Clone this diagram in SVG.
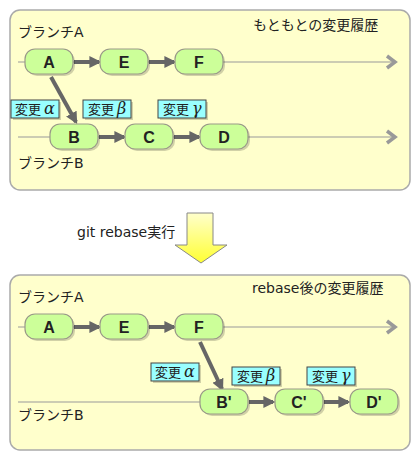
<svg xmlns="http://www.w3.org/2000/svg" width="420" height="460" viewBox="0 0 420 460">
<defs>
<style>
.panel{fill:#ffffcc;stroke:#aaaaaa;stroke-width:1.5}
.node{fill:#ccff99;stroke:#999988;stroke-width:1.2}
.shadow{fill:#000;opacity:0.18}
.nt{font-family:"Liberation Sans",Arial,sans-serif;font-size:16px;font-weight:bold;fill:#222;text-anchor:middle}
.t{font-family:"DejaVu Sans","Noto Sans CJK JP",sans-serif;font-size:14px;fill:#222}
.lab{fill:#99ffff;stroke:#444;stroke-width:1}
.lt{font-family:"Noto Sans CJK JP","DejaVu Sans",sans-serif;font-size:13px;fill:#222}
.gk{font-family:"DejaVu Serif","Liberation Serif",serif;font-style:italic;font-size:16px}
.line{stroke:#999;stroke-width:1.2;fill:none}
.chev{stroke:#999;stroke-width:3.5;fill:none}
.edge{stroke:#666;stroke-width:4;fill:none;marker-end:url(#ah)}
</style>
<marker id="ah" viewBox="0 0 10 10" refX="8" refY="5" markerWidth="3" markerHeight="3" orient="auto" markerUnits="strokeWidth">
<path d="M0,0 L10,5 L0,10 z" fill="#666"/>
</marker>
<linearGradient id="yg" x1="0" y1="0" x2="0" y2="1">
<stop offset="0" stop-color="#ffffcc"/>
<stop offset="1" stop-color="#ffff33"/>
</linearGradient>
</defs>

<!-- Panel 1 -->
<g id="panel1">
<rect class="panel" x="10" y="10" width="400" height="180" rx="10"/>
<text class="t" x="18" y="37">ブランチA</text>
<text class="t" x="18" y="168">ブランチB</text>
<text class="t" x="253" y="30">もともとの変更履歴</text>
</g>

<!-- Panel 2 -->
<g id="panel2">
<rect class="panel" x="10" y="275" width="400" height="175" rx="10"/>
<text class="t" x="18" y="302">ブランチA</text>
<text class="t" x="18" y="420">ブランチB</text>
<text class="t" x="252" y="293">rebase後の変更履歴</text>
</g>

<g id="rebase-arrow">
<text class="t" x="77" y="237">git rebase実行</text>
<path d="M187,213 L213,213 L213,245 L227,245 L201,263 L175,245 L187,245 Z" fill="url(#yg)" stroke="#888" stroke-width="1"/>
</g>

<!-- Connectors -->
<g id="connectors">
<line class="line" x1="18" y1="62" x2="396" y2="62"/>
<path class="chev" d="M387,56 L395,62 L387,68"/>
<line class="line" x1="18" y1="137" x2="396" y2="137"/>
<path class="chev" d="M387,131 L395,137 L387,143"/>
<line class="edge" x1="74" y1="62" x2="99" y2="62"/>
<line class="edge" x1="149" y1="62" x2="174" y2="62"/>
<line class="edge" x1="99" y1="137" x2="124" y2="137"/>
<line class="edge" x1="174" y1="137" x2="199" y2="137"/>
<line class="edge" x1="51" y1="77" x2="76" y2="122"/>

<line class="line" x1="18" y1="327" x2="396" y2="327"/>
<path class="chev" d="M387,321 L395,327 L387,333"/>
<line class="line" x1="18" y1="402" x2="200" y2="402"/>
<line class="edge" x1="74" y1="327" x2="99" y2="327"/>
<line class="edge" x1="149" y1="327" x2="174" y2="327"/>
<line class="edge" x1="249" y1="402" x2="273" y2="402"/>
<line class="edge" x1="324" y1="402" x2="348" y2="402"/>
<line class="edge" x1="200" y1="342" x2="222" y2="389"/>
</g>

<!-- Panel 1 nodes -->
<g id="nA"><rect class="shadow" x="27" y="51" width="48" height="25" rx="10"/><rect class="node" x="25" y="49" width="48" height="25" rx="10"/><text class="nt" x="49" y="68">A</text></g>
<g id="nE"><rect class="shadow" x="102" y="51" width="48" height="25" rx="10"/><rect class="node" x="100" y="49" width="48" height="25" rx="10"/><text class="nt" x="124" y="68">E</text></g>
<g id="nF"><rect class="shadow" x="177" y="51" width="48" height="25" rx="10"/><rect class="node" x="175" y="49" width="48" height="25" rx="10"/><text class="nt" x="199" y="68">F</text></g>
<g id="nB"><rect class="shadow" x="52" y="126" width="48" height="25" rx="10"/><rect class="node" x="50" y="124" width="48" height="25" rx="10"/><text class="nt" x="74" y="143">B</text></g>
<g id="nC"><rect class="shadow" x="127" y="126" width="48" height="25" rx="10"/><rect class="node" x="125" y="124" width="48" height="25" rx="10"/><text class="nt" x="149" y="143">C</text></g>
<g id="nD"><rect class="shadow" x="202" y="126" width="48" height="25" rx="10"/><rect class="node" x="200" y="124" width="48" height="25" rx="10"/><text class="nt" x="224" y="143">D</text></g>

<g id="l1a"><rect class="shadow" x="13" y="102" width="48" height="18"/><rect class="lab" x="11" y="100" width="48" height="18"/><text class="lt" x="15" y="114">変更 <tspan class="gk">α</tspan></text></g>
<g id="l1b"><rect class="shadow" x="85" y="102" width="48" height="18"/><rect class="lab" x="83" y="100" width="48" height="18"/><text class="lt" x="88" y="114">変更 <tspan class="gk">β</tspan></text></g>
<g id="l1c"><rect class="shadow" x="160" y="102" width="48" height="18"/><rect class="lab" x="158" y="100" width="48" height="18"/><text class="lt" x="163" y="114">変更 <tspan class="gk">γ</tspan></text></g>

<!-- Panel 2 nodes -->
<g id="n2A"><rect class="shadow" x="27" y="316" width="48" height="25" rx="10"/><rect class="node" x="25" y="314" width="48" height="25" rx="10"/><text class="nt" x="49" y="333">A</text></g>
<g id="n2E"><rect class="shadow" x="102" y="316" width="48" height="25" rx="10"/><rect class="node" x="100" y="314" width="48" height="25" rx="10"/><text class="nt" x="124" y="333">E</text></g>
<g id="n2F"><rect class="shadow" x="177" y="316" width="48" height="25" rx="10"/><rect class="node" x="175" y="314" width="48" height="25" rx="10"/><text class="nt" x="199" y="333">F</text></g>
<g id="n2B"><rect class="shadow" x="202" y="391" width="48" height="25" rx="10"/><rect class="node" x="200" y="389" width="48" height="25" rx="10"/><text class="nt" x="224" y="408">B'</text></g>
<g id="n2C"><rect class="shadow" x="277" y="391" width="48" height="25" rx="10"/><rect class="node" x="275" y="389" width="48" height="25" rx="10"/><text class="nt" x="299" y="408">C'</text></g>
<g id="n2D"><rect class="shadow" x="352" y="391" width="48" height="25" rx="10"/><rect class="node" x="350" y="389" width="48" height="25" rx="10"/><text class="nt" x="374" y="408">D'</text></g>

<g id="l2a"><rect class="shadow" x="153" y="365" width="48" height="18"/><rect class="lab" x="151" y="363" width="48" height="18"/><text class="lt" x="155" y="377">変更 <tspan class="gk">α</tspan></text></g>
<g id="l2b"><rect class="shadow" x="234" y="369" width="48" height="18"/><rect class="lab" x="232" y="367" width="48" height="18"/><text class="lt" x="237" y="381">変更 <tspan class="gk">β</tspan></text></g>
<g id="l2c"><rect class="shadow" x="309" y="369" width="48" height="18"/><rect class="lab" x="307" y="367" width="48" height="18"/><text class="lt" x="312" y="381">変更 <tspan class="gk">γ</tspan></text></g>
</svg>
